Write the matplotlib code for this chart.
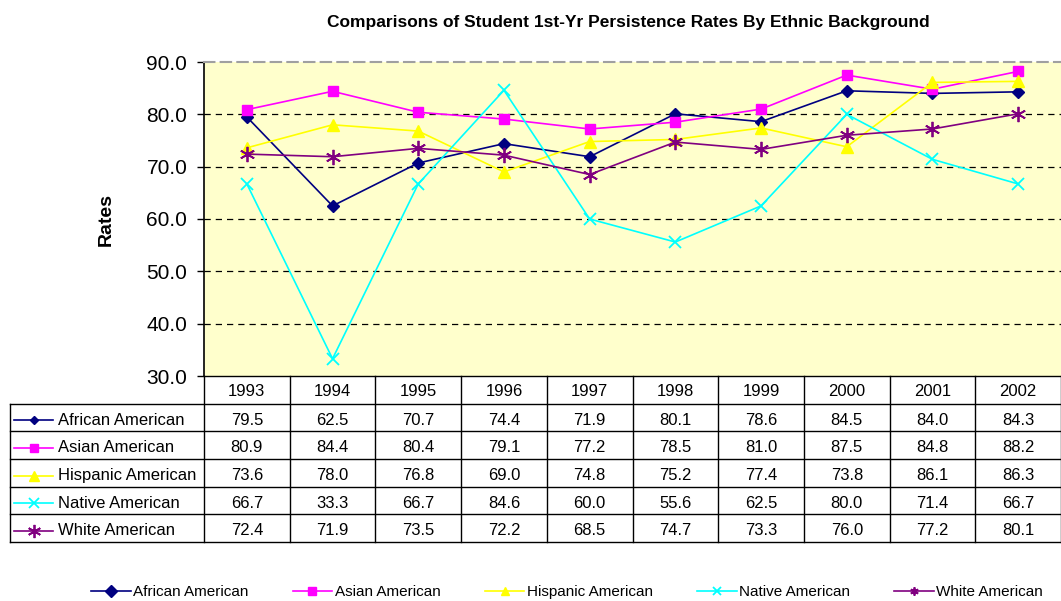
import numpy as np
import matplotlib.pyplot as plt

years = ["1993", "1994", "1995", "1996", "1997", "1998", "1999", "2000", "2001", "2002"]
groups = ["African American", "Asian American", "Hispanic American",
          "Native American", "White American"]
african = [79.5, 62.5, 70.7, 74.4, 71.9, 80.1, 78.6, 84.5, 84.0, 84.3]
asian = [80.9, 84.4, 80.4, 79.1, 77.2, 78.5, 81.0, 87.5, 84.8, 88.2]
hispanic = [73.6, 78.0, 76.8, 69.0, 74.8, 75.2, 77.4, 73.8, 86.1, 86.3]
native = [66.7, 33.3, 66.7, 84.6, 60.0, 55.6, 62.5, 80.0, 71.4, 66.7]
white = [72.4, 71.9, 73.5, 72.2, 68.5, 74.7, 73.3, 76.0, 77.2, 80.1]

series = [african, asian, hispanic, native, white]
colors = ["#000080", "#FF00FF", "#FFFF00", "#00FFFF", "#800080"]
markers = ["D", "s", "^", "x", (6, 2, 0)]
msizes = [6, 7, 8, 9, 11]

plt.rcParams["font.family"] = ["Liberation Sans", "DejaVu Sans"]

W, H = 1061, 601
fig = plt.figure(figsize=(W / 100, H / 100), dpi=100)

# plot area in pixels
px_l, px_r, px_t, px_b = 204, 1061, 62, 376
ax = fig.add_axes([px_l / W, 1 - px_b / H, (px_r - px_l) / W, (px_b - px_t) / H])
ax.set_facecolor("#FFFFCC")

x = np.arange(len(years))
handles = []
for vals, name, c, m, ms in zip(series, groups, colors, markers, msizes):
    mw = 1.3 if m == "x" or isinstance(m, tuple) else 1
    h, = ax.plot(x, vals, color=c, marker=m, markersize=ms, lw=1.2,
                 markeredgewidth=mw, label=name)
    handles.append(h)

ax.set_xlim(-0.5, 9.5)
ax.set_ylim(30, 90)
ax.set_yticks(np.arange(30, 91, 10))
ax.set_yticklabels([f"{v:.1f}" for v in np.arange(30, 91, 10)], fontsize=15)
ax.set_xticks([])
for yv in range(40, 90, 10):
    ax.axhline(yv, color="black", lw=0.9, ls=(0, (5, 4)), zorder=0.5)
ax.spines["top"].set_color("#A0A0A0")
ax.spines["top"].set_linestyle((0, (5, 3)))
ax.spines["top"].set_linewidth(1.5)
ax.spines["right"].set_visible(False)
ax.spines["left"].set_linewidth(1.2)
ax.spines["bottom"].set_linewidth(1.0)
ax.tick_params(axis="y", direction="out", length=5, width=1, pad=7)

ax.set_ylabel("Rates", fontsize=14, fontweight="bold", labelpad=23)
fig.text(628 / W, 1 - 22 / H, "Comparisons of Student 1st-Yr Persistence Rates By Ethnic Background",
         ha="center", va="center", fontsize=12.5, fontweight="bold")

# data table below the plot
tb_l, tb_b = 10, 542
tax = fig.add_axes([tb_l / W, 1 - tb_b / H, (px_r - tb_l) / W, (tb_b - px_b) / H])
unit = (px_r - px_l) / 10.0
left = -0.5 - (px_l - tb_l) / unit
tax.set_xlim(left, 9.5)
tax.set_ylim(6, 0)
tax.axis("off")
lk = dict(color="black", lw=1.0, clip_on=False)
for k in range(11):
    tax.plot([k - 0.5, k - 0.5], [0, 6], **lk)
tax.plot([left, left], [1, 6], **lk)
for r in range(1, 7):
    tax.plot([left, 9.5], [r, r], **lk)
for i, yr in enumerate(years):
    tax.text(i, 0.55, yr, ha="center", va="center", fontsize=12)
for r, (vals, name, c, m, ms) in enumerate(zip(series, groups, colors, markers, msizes), start=1):
    yc = r + 0.6
    xa = left + 4 / unit
    xb = left + 43 / unit
    tax.plot([xa, xb], [yc, yc], color=c, lw=1.2, clip_on=False)
    mw = 1.3 if m == "x" or isinstance(m, tuple) else 1
    tax.plot([(xa + xb) / 2], [yc], marker=m, color=c, markersize=ms - 1.5,
             markeredgewidth=mw, clip_on=False)
    tax.text(left + 48 / unit, yc, name, ha="left", va="center", fontsize=12)
    for i, v in enumerate(vals):
        tax.text(i, yc, f"{v:.1f}", ha="center", va="center", fontsize=12)

leg = fig.legend(handles=handles, loc="center", bbox_to_anchor=(567 / W, 1 - 592 / H),
                 ncol=5, frameon=False, handlelength=2.6, handletextpad=0.15,
                 columnspacing=2.9, prop={"size": 11})
for lh in leg.legend_handles:
    lh.set_markersize(6)

fig.savefig("out.png", dpi=100)
